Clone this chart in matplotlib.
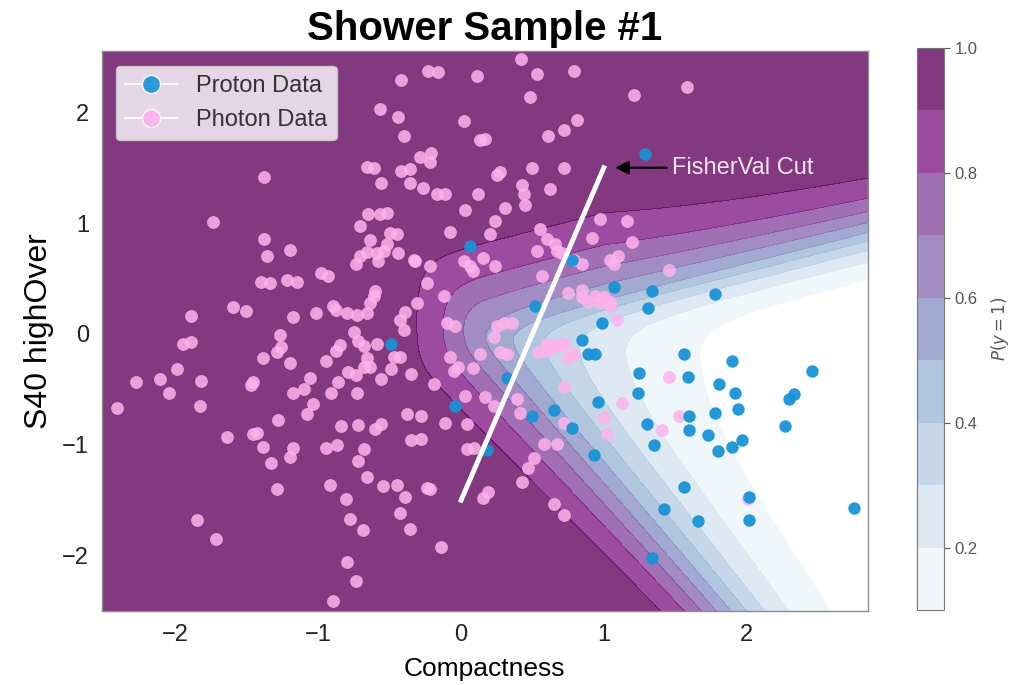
import numpy as np
import matplotlib
matplotlib.use('Agg')
import matplotlib.pyplot as plt
from matplotlib.lines import Line2D

plt.rcParams['font.family'] = ['Liberation Sans', 'DejaVu Sans']

# ------------------------------------------------------------
# shower sample points (Compactness, S40 highOver)
# ------------------------------------------------------------
photon_x = [0.42, -0.23, -0.16, 0.11, 0.53, 0.79, 0.48, 1.21, 1.58, -0.42,
            -0.57, -0.44, 0.02, -0.40, 0.13, 0.17, 0.61, 0.72, 0.81, 0.27,
            0.50, 0.72, -0.29, -0.21, -0.22, -0.66, -0.61, -0.42, -0.36, 0.25,
            -1.38, -0.56, -0.36, -0.27, -0.17, -0.11, 0.12, 0.03, -0.65, -0.57,
            -0.52, -0.71, -1.74, -0.08, 0.20, 0.24, -0.50, -0.45, -0.64, -1.38,
            -1.20, -1.36, -0.52, -0.54, -0.66, -0.71, -0.44, -0.33, -0.32, -0.74,
            -0.58, -0.22, 0.02, 0.06, 0.08, 0.15, 0.24, -0.98, -0.93, -1.40,
            -1.34, -1.22, -1.15, -0.24, -0.60, -0.61, -0.12, -0.90, -0.88, -0.80,
            -0.73, -0.66, -0.64, -0.39, -0.43, -0.31, -1.60, -1.51, -1.89, -1.02,
            -1.18, -1.27, -0.40, -0.75, -0.10, -0.04, -1.95, -1.89, -0.72, -0.59,
            0.23, -0.59, -1.39, -1.29, -1.26, -1.20, -0.95, -0.88, -0.85, -0.68,
            -0.66, -0.64, -0.68, -0.47, -0.43, -0.79, -0.74, -0.56, -0.49, -0.35,
            -2.28, -2.11, -1.99, -1.82, -2.05, -1.47, -1.46, -1.06, -1.18, -1.10,
            -0.86, -0.91, -0.73, -2.41, -1.83, -1.04, -1.08, -1.28, -0.84, -0.72,
            -0.60, -0.56, -0.38, -0.35, -1.64, -1.46, -1.43, -1.39, -1.33, -1.20,
            -1.18, -0.95, -0.87, -0.68, -0.72, -0.66, -0.92, -1.29, -0.55, -0.45,
            -0.39, -0.81, -0.43, -0.36, -0.78, -0.69, -1.85, -1.72, -0.80, -0.74,
            -0.90, 0.43, 0.44, 0.45, 0.62, 0.31, 0.97, 1.16, 0.92, 1.20,
            0.55, 0.60, 0.66, 0.67, 0.71, 0.53, 0.79, 0.85, 1.04, 1.10,
            1.07, 1.46, 0.57, 0.75, 0.85, 0.94, 1.00, 1.04, 1.04, 0.85,
            0.89, 0.97, 1.09, 0.25, 0.30, 0.36, 0.60, 0.66, 0.72, 0.54,
            0.59, 0.64, 0.69, 0.75, 0.79, 0.13, 0.27, 0.32, -0.08, -0.02,
            -0.05, 0.08, -0.19, 0.72, 1.46, 0.03, 0.17, 0.23, 0.39, 0.41,
            1.13, 0.72, 1.00, 1.02, 1.53, 1.41, -0.28, -0.11, 0.04, -0.28,
            0.58, 0.67, 0.04, 0.09, 0.51, 0.47, 0.43, -0.24, -0.22, 0.15,
            0.19, 0.65, 0.72, -0.14, 2.01]
photon_y = [2.48, 2.37, 2.36, 2.33, 2.35, 2.37, 2.14, 2.16, 2.23, 2.29,
            2.03, 1.96, 1.92, 1.79, 1.75, 1.76, 1.79, 1.84, 1.93, 1.46,
            1.50, 1.50, 1.60, 1.63, 1.55, 1.51, 1.50, 1.47, 1.49, 1.43,
            1.42, 1.36, 1.36, 1.32, 1.26, 1.26, 1.26, 1.12, 1.08, 1.08,
            1.09, 0.97, 1.01, 0.92, 0.90, 1.02, 0.91, 0.90, 0.85, 0.86,
            0.76, 0.70, 0.81, 0.75, 0.74, 0.70, 0.73, 0.67, 0.66, 0.63,
            0.66, 0.61, 0.66, 0.61, 0.57, 0.69, 0.61, 0.55, 0.52, 0.47,
            0.46, 0.49, 0.47, 0.46, 0.39, 0.34, 0.34, 0.25, 0.22, 0.19,
            0.17, 0.19, 0.28, 0.20, 0.13, 0.28, 0.24, 0.21, 0.16, 0.19,
            0.15, -0.01, 0.04, 0.02, 0.10, 0.07, -0.09, -0.07, -0.06, -0.09,
            -0.03, 0.73, -0.22, -0.16, -0.12, -0.26, -0.24, -0.15, -0.10, -0.11,
            -0.22, -0.30, -0.30, -0.21, -0.21, -0.34, -0.37, -0.41, -0.32, -0.36,
            -0.43, -0.41, -0.32, -0.42, -0.53, -0.46, -0.43, -0.40, -0.53, -0.50,
            -0.43, -0.53, -0.53, -0.67, -0.65, -0.63, -0.72, -0.78, -0.83, -0.82,
            -0.86, -0.81, -0.72, -0.96, -0.93, -0.90, -0.89, -1.02, -1.16, -1.11,
            -1.03, -1.03, -1.00, -1.04, -1.15, -1.29, -1.36, -1.40, -1.37, -1.36,
            -1.47, -1.49, -1.62, -1.76, -1.67, -1.77, -1.68, -1.85, -2.06, -2.23,
            -2.41, 1.34, 1.26, 1.16, 1.31, 1.14, 1.04, 1.02, 0.87, 0.83,
            0.95, 0.86, 0.81, 0.75, 0.73, 0.75, 0.67, 0.63, 0.67, 0.70,
            0.63, 0.58, 0.52, 0.37, 0.40, 0.34, 0.33, 0.29, 0.25, 0.33,
            0.29, 0.28, 0.13, 0.07, 0.10, 0.10, -0.09, -0.10, -0.09, -0.16,
            -0.15, -0.13, -0.10, -0.22, -0.18, -0.18, -0.16, -0.18, -0.21, -0.30,
            -0.33, -0.31, -0.45, -0.48, -0.39, -0.56, -0.57, -0.65, -0.59, -0.71,
            -0.62, -0.80, -0.75, -0.90, -0.74, -0.87, -0.74, -0.80, -0.81, -0.95,
            -0.99, -0.99, -1.04, -1.03, -1.12, -1.21, -1.34, -1.39, -1.40, -1.48,
            -1.43, -1.53, -1.63, -1.92, -1.49]

proton_x = [1.29, 0.06, 0.78, 0.52, 1.07, 1.34, 1.31, 1.78, 0.99, 0.85,
            0.89, 0.94, 1.56, 1.90, 2.46, 1.25, 1.59, 0.32, 1.81, 1.92,
            2.33, 2.30, 1.24, 1.94, 1.78, 1.60, 0.96, 0.65, 0.50, -0.04,
            1.30, 0.78, 1.60, 1.73, 2.27, 1.97, 1.90, 1.80, 1.35, 0.93,
            0.18, 1.56, 2.02, 1.42, 1.66, 2.02, 2.75, 1.34, -0.49]
proton_y = [1.62, 0.79, 0.67, 0.25, 0.42, 0.39, 0.23, 0.36, 0.10, -0.05,
            -0.18, -0.18, -0.18, -0.24, -0.33, -0.35, -0.39, -0.40, -0.45, -0.53,
            -0.54, -0.59, -0.53, -0.68, -0.71, -0.74, -0.61, -0.69, -0.74, -0.65,
            -0.81, -0.85, -0.87, -0.91, -0.83, -0.96, -1.02, -1.06, -1.00, -1.09,
            -1.05, -1.38, -1.47, -1.58, -1.69, -1.68, -1.57, -2.02, -0.09]

# Fisher discriminant cut line
cut_x = [0.0, 1.0]
cut_y = [-1.5, 1.5]

x_range = (-2.52, 2.85)
y_range = (-2.50, 2.55)
levels = np.linspace(0.1, 1.0, 10)


def softmin(a, b, tau):
    m = np.minimum(a, b)
    return m - tau * np.log(np.exp(-(a - m) / tau) + np.exp(-(b - m) / tau))


# ------------------------------------------------------------
# classifier output P(y=1): photon-like everywhere except a wedge
# opening to the right, built from three soft boundaries (logit units)
# ------------------------------------------------------------
xx, yy = np.meshgrid(np.linspace(*x_range, 500), np.linspace(*y_range, 500))

# lower edge of the wedge
x_low = 0.995 - 0.661 * (yy + 1.145)
w_low = 1.0 + 0.22 * (yy + 2.49)
d1 = np.clip((xx - x_low) / w_low, -4, 6)
f1 = 6.4 * (1 - np.exp(-0.6 * d1))

# upper edge, softer on the outside than the inside
y_up = -0.017 + 0.327 * xx
d2 = y_up - yy
k_out = 2.8 + 0.9 * np.clip(xx - 1.0, 0, None)
f2 = np.where(d2 < 0, k_out * d2, 5.2 * d2)

# blunt nose on the left
d3 = xx - 0.13
f3 = np.where(d3 < 0, 4.9 * d3, 1.5 * d3)

f = softmin(softmin(f2, f3, 0.5), f1, 0.3)
prob = 1.0 / (1.0 + np.exp(f))

# ------------------------------------------------------------
# plot
# ------------------------------------------------------------
fig = plt.figure(figsize=(10.15, 6.85), dpi=100)
ax = fig.add_axes([0.100, 0.108, 0.755, 0.817])
cax = fig.add_axes([0.903, 0.1095, 0.027, 0.821])

cs = ax.contourf(xx, yy, prob, levels=levels, cmap='BuPu', alpha=0.8)

ax.scatter(photon_x, photon_y, s=85, color='#ffb2ec', alpha=0.85,
           linewidths=0, zorder=3)
ax.scatter(proton_x, proton_y, s=80, color='#1893d6', alpha=0.95,
           linewidths=0, zorder=4)

ax.plot(cut_x, cut_y, color='white', lw=3.5, zorder=5)
ax.annotate('FisherVal Cut', xy=(1.08, 1.5), xytext=(1.48, 1.5),
            color='#f8e6f4', fontsize=17, va='center', zorder=6,
            arrowprops=dict(arrowstyle='-|>', color='black', lw=1.6,
                            mutation_scale=20, shrinkA=2, shrinkB=0))

ax.set_xlim(*x_range)
ax.set_ylim(*y_range)
ax.set_xticks([-2, -1, 0, 1, 2])
ax.set_yticks([-2, -1, 0, 1, 2])
ax.tick_params(length=0, labelsize=17, pad=9, colors='#222222')
for sp in ax.spines.values():
    sp.set_color('#8c8c8c')
    sp.set_linewidth(1.0)

ax.set_xlabel('Compactness', fontsize=19, labelpad=8)
ax.set_ylabel('S40 highOver', fontsize=23, labelpad=6)
ax.set_title('Shower Sample #1', fontsize=29, fontweight='bold', pad=8)

handles = [
    Line2D([0], [0], color='white', alpha=0.9, lw=1.5, marker='o',
           markersize=13, markerfacecolor='#1893d6', markeredgecolor='white',
           label='Proton Data'),
    Line2D([0], [0], color='white', alpha=0.9, lw=1.5, marker='o',
           markersize=13, markerfacecolor='#ffb2ec', markeredgecolor='white',
           label='Photon Data'),
]
leg = ax.legend(handles=handles, loc='upper left', fontsize=17,
                frameon=True, facecolor='white', framealpha=0.8,
                edgecolor='#cccccc', borderaxespad=0.6, handlelength=2.2)
for t in leg.get_texts():
    t.set_color('#333333')

cb = fig.colorbar(cs, cax=cax, ticks=[0.2, 0.4, 0.6, 0.8, 1.0])
cb.set_label('$P(y = 1)$', fontsize=12, color='#555555', labelpad=8)
cb.ax.tick_params(labelsize=12, colors='#555555', length=4)
cb.outline.set_edgecolor('#777777')

fig.savefig('out.png', dpi=100)
